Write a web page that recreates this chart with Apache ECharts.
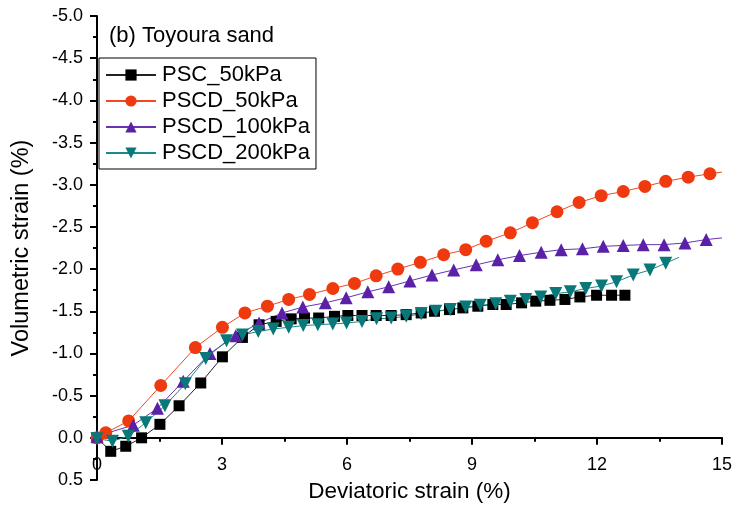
<!DOCTYPE html>
<html>
<head>
<meta charset="utf-8">
<script src="https://cdn.jsdelivr.net/npm/echarts@6/dist/echarts.min.js"></script>
<style>html,body{margin:0;padding:0;background:#fff}#c{width:734px;height:508px}</style>
</head>
<body>
<div id="c"></div>
<script>
// Deviatoric strain (%) vs Volumetric strain (%)
var seriesNames = ['PSC_50kPa', 'PSCD_50kPa', 'PSCD_100kPa', 'PSCD_200kPa'];

var psc50X = [0, 0.33, 0.69, 1.07, 1.51, 1.97, 2.49, 3.01, 3.49, 3.89, 4.30, 4.66, 4.98, 5.32, 5.70, 6.02, 6.36, 6.70, 7.06, 7.42, 7.78, 8.10, 8.46, 8.78, 9.14, 9.50, 9.82, 10.19, 10.53, 10.87, 11.23, 11.59, 11.99, 12.35, 12.67];
var psc50Y = [0, 0.16, 0.10, 0.00, -0.16, -0.38, -0.65, -0.96, -1.19, -1.34, -1.38, -1.41, -1.42, -1.42, -1.44, -1.45, -1.45, -1.45, -1.45, -1.46, -1.48, -1.50, -1.52, -1.54, -1.56, -1.58, -1.58, -1.60, -1.62, -1.63, -1.64, -1.67, -1.69, -1.69, -1.69];

var pscd50X = [0, 0.21, 0.76, 1.53, 2.36, 3.01, 3.55, 4.09, 4.60, 5.10, 5.66, 6.18, 6.70, 7.22, 7.76, 8.32, 8.85, 9.34, 9.92, 10.45, 11.04, 11.57, 12.10, 12.63, 13.15, 13.65, 14.19, 14.71, 15.0];
var pscd50Y = [0, -0.06, -0.20, -0.62, -1.07, -1.31, -1.48, -1.56, -1.64, -1.70, -1.77, -1.83, -1.92, -2.00, -2.08, -2.17, -2.23, -2.33, -2.43, -2.55, -2.68, -2.79, -2.87, -2.92, -2.98, -3.04, -3.09, -3.13, -3.15];
var pscd50Marked = 28; // points with a marker (the last one is the line end only)

var pscd100X = [0, 0.87, 1.45, 2.07, 2.71, 3.33, 3.89, 4.44, 4.94, 5.48, 5.98, 6.50, 7.00, 7.51, 8.04, 8.56, 9.10, 9.62, 10.14, 10.66, 11.14, 11.65, 12.15, 12.63, 13.11, 13.61, 14.11, 14.62, 15.0];
var pscd100Y = [-0.02, -0.15, -0.35, -0.67, -1.00, -1.21, -1.36, -1.48, -1.55, -1.60, -1.66, -1.73, -1.79, -1.86, -1.93, -1.99, -2.05, -2.11, -2.16, -2.20, -2.23, -2.24, -2.27, -2.28, -2.29, -2.29, -2.31, -2.35, -2.37];
var pscd100Marked = 28;

var pscd200X = [0, 0.37, 0.75, 1.17, 1.63, 2.12, 2.61, 3.11, 3.49, 3.87, 4.23, 4.60, 4.95, 5.30, 5.66, 5.99, 6.36, 6.71, 7.06, 7.42, 7.78, 8.13, 8.48, 8.85, 9.20, 9.57, 9.92, 10.29, 10.65, 11.01, 11.36, 11.73, 12.11, 12.47, 12.87, 13.27, 13.65, 13.97];
var pscd200Y = [0.01, 0.04, -0.02, -0.18, -0.38, -0.64, -0.94, -1.15, -1.22, -1.26, -1.29, -1.31, -1.33, -1.34, -1.35, -1.36, -1.38, -1.41, -1.42, -1.44, -1.47, -1.50, -1.52, -1.55, -1.57, -1.59, -1.62, -1.64, -1.67, -1.71, -1.73, -1.77, -1.80, -1.85, -1.93, -1.99, -2.07, -2.14];
var pscd200Marked = 37;

var xTicks = [0, 3, 6, 9, 12, 15];
var yTicks = [-5.0, -4.5, -4.0, -3.5, -3.0, -2.5, -2.0, -1.5, -1.0, -0.5, 0.0, 0.5];

function pairs(xs, ys, marked) {
  var out = [];
  for (var i = 0; i < xs.length; i++) {
    if (marked != null && i >= marked) out.push({value: [xs[i], ys[i]], symbol: 'none'});
    else out.push([xs[i], ys[i]]);
  }
  return out;
}

var GRID_TOP = 16, GRID_BOTTOM = 28, H = 508;
var plotH = H - GRID_TOP - GRID_BOTTOM;
var yMin = yTicks[0], yMax = yTicks[yTicks.length - 1];
// distance from the grid's bottom edge up to the y = 0 line (x axis crosses there)
var zeroOffset = plotH * (yMax - 0) / (yMax - yMin);

var FONT = 'Liberation Sans, Arial, sans-serif';
var chart = echarts.init(document.getElementById('c'), null, {renderer: 'canvas'});
chart.setOption({
  animation: false,
  backgroundColor: '#ffffff',
  grid: {left: 97, right: 12, top: GRID_TOP, bottom: GRID_BOTTOM, containLabel: false, outerBoundsMode: 'none'},
  title: {
    text: '(b) Toyoura sand', left: 104, top: 20,
    textStyle: {fontFamily: FONT, fontSize: 22, fontWeight: 'normal', color: '#000'}
  },
  legend: {
    orient: 'vertical', left: 99, top: 58,
    padding: [6, 6, 5, 6],
    borderColor: '#000', borderWidth: 1,
    itemWidth: 50, itemHeight: 14, itemGap: 4,
    textStyle: {fontFamily: FONT, fontSize: 22, color: '#000', lineHeight: 22, padding: [0, 0, 0, 1]},
    data: seriesNames
  },
  xAxis: {
    type: 'value', min: xTicks[0], max: xTicks[xTicks.length - 1], interval: 3,
    position: 'bottom', offset: -zeroOffset,
    name: 'Deviatoric strain (%)', nameLocation: 'middle', nameGap: 42,
    nameTextStyle: {fontFamily: FONT, fontSize: 22.5, color: '#000'},
    axisLine: {onZero: false, lineStyle: {color: '#000', width: 2}},
    axisTick: {show: true, length: 7, lineStyle: {color: '#000', width: 2}},
    minorTick: {show: true, splitNumber: 2, length: 4, lineStyle: {color: '#000', width: 2}},
    axisLabel: {fontFamily: FONT, fontSize: 18, color: '#000', margin: 18},
    splitLine: {show: false}
  },
  yAxis: {
    type: 'value', inverse: true, min: yMin, max: yMax, interval: 0.5,
    name: 'Volumetric strain (%)', nameLocation: 'middle', nameGap: 63,
    nameTextStyle: {fontFamily: FONT, fontSize: 23.5, color: '#000'},
    axisLine: {onZero: false, lineStyle: {color: '#000', width: 2}},
    axisTick: {show: true, length: 7, lineStyle: {color: '#000', width: 2}},
    minorTick: {show: true, splitNumber: 2, length: 4, lineStyle: {color: '#000', width: 2}},
    axisLabel: {fontFamily: FONT, fontSize: 18, color: '#000', margin: 14,
      formatter: function (v) { return v.toFixed(1); }},
    splitLine: {show: false}
  },
  series: [
    {
      name: seriesNames[0], type: 'line', data: pairs(psc50X, psc50Y),
      symbol: 'rect', symbolSize: 11, showAllSymbol: true,
      itemStyle: {color: '#000000'}, lineStyle: {color: '#222', width: 1}
    },
    {
      name: seriesNames[1], type: 'line', data: pairs(pscd50X, pscd50Y, pscd50Marked),
      symbol: 'circle', symbolSize: 13, showAllSymbol: true,
      itemStyle: {color: '#EE3A0E'}, lineStyle: {color: '#F04A24', width: 1}
    },
    {
      name: seriesNames[2], type: 'line', data: pairs(pscd100X, pscd100Y, pscd100Marked),
      symbol: 'triangle', symbolSize: 13, showAllSymbol: true,
      itemStyle: {color: '#5A20A8'}, lineStyle: {color: '#6A34B0', width: 1}
    },
    {
      name: seriesNames[3], type: 'line', data: pairs(pscd200X, pscd200Y, pscd200Marked),
      symbol: 'triangle', symbolRotate: 180, symbolSize: 13, showAllSymbol: true,
      itemStyle: {color: '#0A7878'}, lineStyle: {color: '#1A8A8A', width: 1}
    }
  ]
});
</script>
</body>
</html>
